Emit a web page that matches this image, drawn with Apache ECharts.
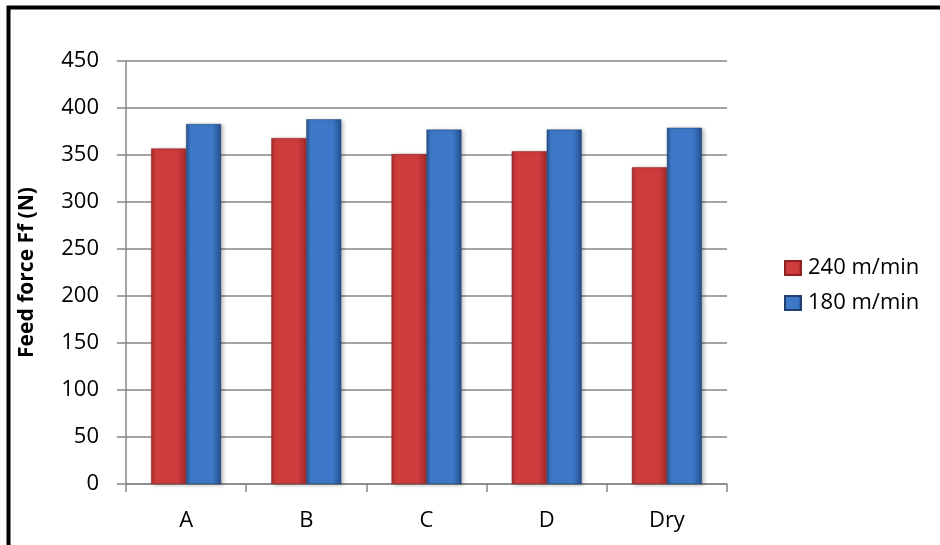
<!DOCTYPE html>
<html>
<head>
<meta charset="utf-8">
<script src="https://cdn.jsdelivr.net/npm/echarts@6/dist/echarts.min.js"></script>
<style>
  html, body { margin: 0; padding: 0; background: #ffffff; }
  #chart { width: 940px; height: 545px; }
</style>
</head>
<body>
<div id="chart"></div>
<script>
// Feed force by cooling condition at two cutting speeds
const categories = ['A', 'B', 'C', 'D', 'Dry'];
const speed240 = [357, 368, 351, 354, 337];
const speed180 = [383, 388, 377, 377, 379];
const seriesNames = ['240 m/min', '180 m/min'];
const yTicks = { min: 0, max: 450, step: 50 };

const FONT = '"Open Sans", "Liberation Sans", sans-serif';

function barFill(edge, mid) {
  return new echarts.graphic.LinearGradient(0, 0, 1, 0, [
    { offset: 0, color: edge },
    { offset: 0.12, color: mid },
    { offset: 0.75, color: mid },
    { offset: 1, color: edge }
  ]);
}

const chart = echarts.init(document.getElementById('chart'), null, { renderer: 'canvas' });

chart.setOption({
  backgroundColor: '#ffffff',
  animation: false,
  graphic: [
    {
      type: 'rect',
      shape: { x: 8.5, y: 7.5, width: 1200, height: 1200 },
      style: { fill: 'none', stroke: '#000000', lineWidth: 4 },
      silent: true
    }
  ],
  grid: { left: 126, right: 213, top: 61, bottom: 61 },
  legend: {
    orient: 'vertical',
    left: 779,
    top: 252,
    itemWidth: 16,
    itemHeight: 14,
    itemGap: 13,
    icon: 'rect',
    textStyle: { fontFamily: FONT, fontSize: 22, color: '#000000', lineHeight: 22, padding: [0, 0, 0, 2] },
    data: seriesNames
  },
  xAxis: {
    type: 'category',
    data: categories,
    axisLine: { lineStyle: { color: '#868686', width: 1.5 } },
    axisTick: { show: true, length: 8, lineStyle: { color: '#868686', width: 1.5 } },
    axisLabel: { fontFamily: FONT, fontSize: 22, color: '#000000', margin: 26 }
  },
  yAxis: {
    type: 'value',
    min: yTicks.min,
    max: yTicks.max,
    interval: yTicks.step,
    name: 'Feed force Ff (N)',
    nameLocation: 'middle',
    nameRotate: 90,
    nameGap: 88,
    nameTextStyle: { fontFamily: FONT, fontSize: 21, fontWeight: 'bold', color: '#000000' },
    axisLine: { show: true, lineStyle: { color: '#868686', width: 1.5 } },
    axisTick: { show: true, length: 9, lineStyle: { color: '#868686', width: 1.5 } },
    axisLabel: { fontFamily: FONT, fontSize: 22, color: '#000000', margin: 27 },
    splitLine: { lineStyle: { color: '#868686', width: 1.5 } }
  },
  series: [
    {
      name: seriesNames[0],
      type: 'bar',
      data: speed240,
      barWidth: 35,
      barGap: '0%',
      itemStyle: {
        color: barFill('#a32a2a', '#cf3c3c'),
        borderColor: '#8e2222',
        borderWidth: 0.5,
        shadowColor: 'rgba(0,0,0,0.25)',
        shadowBlur: 4,
        shadowOffsetX: 2,
        shadowOffsetY: 1
      }
    },
    {
      name: seriesNames[1],
      type: 'bar',
      data: speed180,
      barWidth: 35,
      barGap: '0%',
      itemStyle: {
        color: barFill('#244f8c', '#3d79c8'),
        borderColor: '#1f3f70',
        borderWidth: 0.5,
        shadowColor: 'rgba(0,0,0,0.25)',
        shadowBlur: 4,
        shadowOffsetX: 2,
        shadowOffsetY: 1
      }
    }
  ]
});
</script>
</body>
</html>
